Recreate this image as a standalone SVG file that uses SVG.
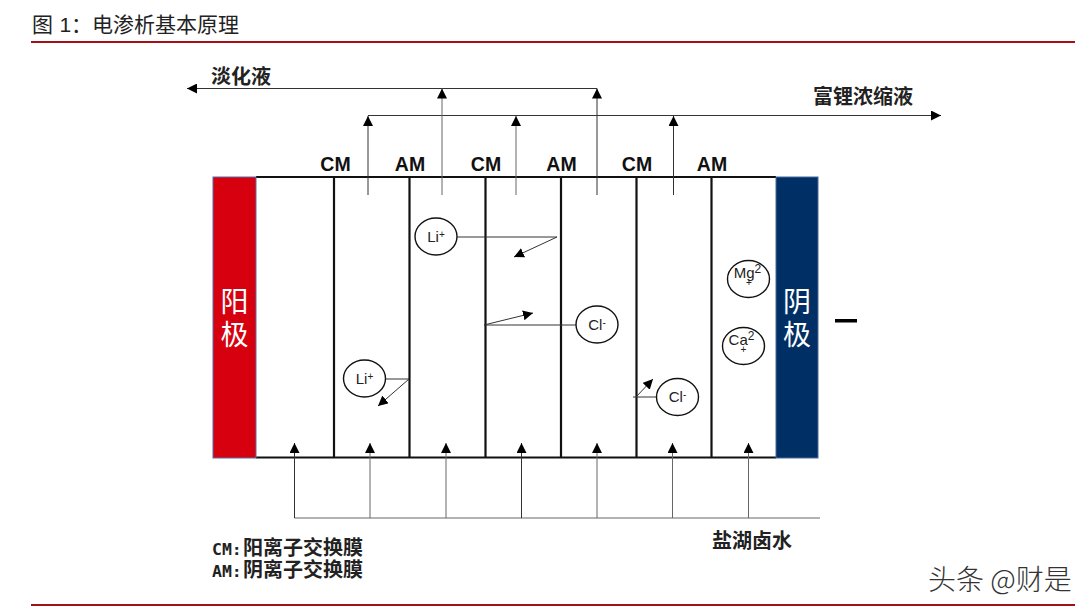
<svg xmlns="http://www.w3.org/2000/svg" width="1091" height="613" viewBox="0 0 1091 613">
<style>
.cjk{font-family:"Noto Sans CJK SC","Liberation Sans",sans-serif}
.lab{font-family:"Liberation Sans","Noto Sans CJK SC",sans-serif;font-weight:700;font-size:19.500px;fill:#111;text-anchor:middle}
.cn{font-family:"Noto Sans CJK SC",sans-serif;font-weight:700;font-size:20px;fill:#222}
.mono{font-family:"DejaVu Sans Mono",monospace;font-size:16.500px}
.el{font-family:"Noto Sans CJK SC",sans-serif;font-size:28px;fill:#fff;text-anchor:middle}
.ion{font-family:"Liberation Sans",sans-serif;font-size:15px;fill:#222;text-anchor:middle}
.sup{font-size:10px}
.mem{stroke:#111;stroke-width:2.2;fill:none}
.ln{stroke:#333;stroke-width:1;fill:none}
.gr{stroke:#666;stroke-width:1;fill:none}
.circ{fill:#fff;stroke:#111;stroke-width:1.4}
.arr{marker-end:url(#ah)}
</style>
<defs><marker id="ah" markerUnits="userSpaceOnUse" markerWidth="11" markerHeight="10" refX="10" refY="5" orient="auto"><path d="M0 0L10 5L0 10Z" fill="#000"/></marker></defs>
<rect width="1091" height="613" fill="#fff"/>
<g id="header">
<text class="cjk" font-size="21" fill="#222" y="32"><tspan x="32">图</tspan><tspan x="59.500" font-family="Liberation Sans">1</tspan><tspan x="71">：</tspan><tspan x="92">电渗析基本原理</tspan></text>
<rect x="31" y="41" width="1044" height="2" fill="#a31018"/>
<rect x="31" y="604" width="1044" height="2" fill="#a31018"/>
</g>
<g id="cell">
<path class="mem" d="M256 177H776M256 457.500H776M334 177V457.500M409.500 177V457.500M485.500 177V457.500M561 177V457.500M636.500 177V457.500M711.500 177V457.500"/>
</g>
<g id="anode"><rect x="213" y="177" width="43" height="281" fill="#d7000f" stroke="#5b6ca6" stroke-width="1"/>
<text class="el" y="312"><tspan x="234.500">阳</tspan><tspan x="234.500" dy="33">极</tspan></text></g>
<g id="cathode"><rect x="776" y="177" width="42" height="281" fill="#002f66" stroke="#4a6a9a" stroke-width="1"/>
<text class="el" y="312"><tspan x="797">阴</tspan><tspan x="797" dy="33">极</tspan></text></g>
<rect id="minus" x="835" y="319" width="22" height="3.500" fill="#000"/>
<g id="connectors">
<path class="ln arr" d="M597 88.500H187"/>
<path class="ln arr" d="M368 115.500H941"/>
<path class="ln arr" d="M368 195V116"/><path class="gr arr" d="M442 195V88.500"/><path class="gr arr" d="M516 195V116"/><path class="ln arr" d="M597 195V88.500"/><path class="ln arr" d="M673.500 195V116"/>
<path class="gr" d="M294.500 518H820"/>
<path class="ln arr" d="M294.500 518V443"/><path class="gr arr" d="M370 518V443"/><path class="gr arr" d="M446 518V443"/><path class="ln arr" d="M521.500 518V443"/><path class="gr arr" d="M597 518V443"/><path class="gr arr" d="M672.500 518V443"/><path class="gr arr" d="M748.500 518V443"/>
<path class="ln" d="M457 237H557"/><path class="ln arr" d="M557 237L514 257"/>
<path class="ln" d="M386 379H409"/><path class="ln arr" d="M409 379L378 406"/>
<path class="ln" d="M484 325H576"/><path class="ln arr" d="M484 325L533 313"/>
<path class="ln" d="M633 397H656"/><path class="ln arr" d="M636 397L653 379"/>
</g>
<g id="ion-li1"><ellipse class="circ" cx="436" cy="236.500" rx="21" ry="18.500"/><text class="ion" x="436" y="241.500">Li<tspan class="sup" dy="-4">+</tspan></text></g>
<g id="ion-li2"><ellipse class="circ" cx="364.500" cy="378.500" rx="21" ry="18.500"/><text class="ion" x="364.500" y="383.500">Li<tspan class="sup" dy="-4">+</tspan></text></g>
<g id="ion-cl1"><ellipse class="circ" cx="597" cy="324.500" rx="21" ry="18.500"/><text class="ion" x="597" y="329.500">Cl<tspan class="sup" dy="-4">-</tspan></text></g>
<g id="ion-cl2"><ellipse class="circ" cx="677.500" cy="397" rx="21" ry="18.500"/><text class="ion" x="677.500" y="402">Cl<tspan class="sup" dy="-4">-</tspan></text></g>
<g id="ion-mg"><ellipse class="circ" cx="748.500" cy="279" rx="21" ry="18.500"/><text class="ion" y="278"><tspan x="747.500">Mg</tspan><tspan font-size="12" dy="-5">2</tspan><tspan x="749" dy="13" font-size="10">+</tspan></text></g>
<g id="ion-ca"><ellipse class="circ" cx="743.500" cy="346" rx="21" ry="18.500"/><text class="ion" y="345"><tspan x="741.500">Ca</tspan><tspan font-size="12" dy="-5">2</tspan><tspan x="743.500" dy="13" font-size="10">+</tspan></text></g>
<g id="labels">
<text class="lab" x="335.500" y="171">CM</text><text class="lab" x="410" y="171">AM</text><text class="lab" x="486" y="171">CM</text><text class="lab" x="561.500" y="171">AM</text><text class="lab" x="637" y="171">CM</text><text class="lab" x="712" y="171">AM</text>
<text class="cn" x="211" y="84">淡化液</text>
<text class="cn" x="813" y="104">富锂浓缩液</text>
<text class="cn" x="712" y="548">盐湖卤水</text>
<text class="cn" y="555"><tspan class="mono" x="212">CM:</tspan><tspan x="243">阳离子交换膜</tspan><tspan class="mono" x="212" dy="22">AM:</tspan><tspan x="243">阴离子交换膜</tspan></text>
</g>
<text id="watermark" class="cjk" x="928" y="590" font-size="28" fill="#333" font-weight="300">头条 @财是</text>
</svg>
